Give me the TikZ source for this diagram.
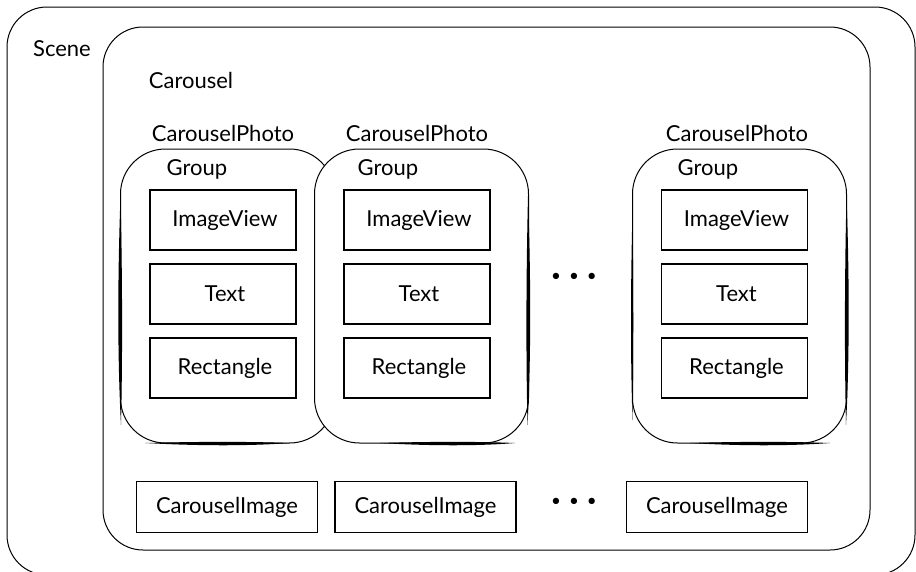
\documentclass[tikz,border=0pt]{standalone}
\usepackage{fontspec}
\setmainfont{Lato}
\begin{document}
\begin{tikzpicture}[x=1pt,y=-1pt,
  lbl/.style={font=\fontsize{22}{25}\selectfont, inner sep=0pt},
  container/.style={draw, line width=1pt, rounded corners=#1, inner sep=0pt},
  grp/.style={draw, fill=white, line width=1pt, rounded corners=45pt, minimum width=214pt, minimum height=294pt, inner sep=0pt},
  item/.style={draw, line width=1.1pt, minimum width=146pt, minimum height=60pt, inner sep=0pt, font=\fontsize{22}{25}\selectfont},
  imgbox/.style={draw, line width=1.1pt, minimum width=181pt, minimum height=51pt, inner sep=0pt, font=\fontsize{22}{25}\selectfont},
  heavy/.style={fill=black}
]
\useasboundingbox (0,0) rectangle (916,571);
% Scene and Carousel containers
\node[container=40pt, minimum width=908pt, minimum height=568pt] (scene) at (461,291) {};
\node[container=40pt, minimum width=767pt, minimum height=523pt] (carousel) at (486.5,288.5) {};
\node[lbl] (scenelbl) at (62,49) {Scene};
\node[lbl] (carousellbl) at (191,80) {Carousel};

% Group 1
\node[grp] (g1) at (227.5,296) {};
\fill[heavy] (120.5,196) .. controls (117.5,280) and (117.5,360) .. (121,425) .. controls (122.5,360) and (122.5,280) .. cycle;
\fill[heavy] (145,443) .. controls (200,446) and (250,446) .. (290,443) .. controls (250,441.5) and (200,441.5) .. cycle;
% Group 2 (on top of group 1)
\node[grp] (g2) at (421.5,296) {};
\fill[heavy] (528,196) .. controls (531,280) and (531,360) .. (527.5,425) .. controls (526,360) and (526,280) .. cycle;
\fill[heavy] (380,443) .. controls (430,446) and (480,446) .. (515,443) .. controls (480,441.5) and (430,441.5) .. cycle;
% Group 3
\node[grp] (g3) at (739.5,296) {};
\fill[heavy] (846.5,196) .. controls (849.5,280) and (849.5,360) .. (846,425) .. controls (844.5,360) and (844.5,280) .. cycle;
\fill[heavy] (632.5,210) .. controls (630.5,290) and (630.5,360) .. (632.5,420) .. controls (633.5,360) and (633.5,290) .. cycle;
\fill[heavy] (690,443) .. controls (740,446) and (790,446) .. (830,443) .. controls (790,441.5) and (740,441.5) .. cycle;

% labels
\node[lbl] (cp1) at (223,133) {CarouselPhoto};
\node[lbl] (cp2) at (417,133) {CarouselPhoto};
\node[lbl] (cp3) at (737,133) {CarouselPhoto};
\node[lbl] (gl1) at (197,169) {Group};
\node[lbl] (gl2) at (388,169) {Group};
\node[lbl] (gl3) at (708,169) {Group};

% items
\foreach \gx/\n in {223/1,417/2,734.5/3}{
  \node[item] (iv\n) at (\gx,220) {\hspace{4pt}ImageView};
  \node[item] (tx\n) at (\gx,294) {\hspace{4pt}Text};
  \node[item] (rc\n) at (\gx,368) {\hspace{4pt}Rectangle};
}

% ellipses
\node[lbl, font=\fontsize{17}{20}\selectfont] (dots1) at (574,277) {•\hspace{8pt}•\hspace{8pt}•};
\node[lbl, font=\fontsize{17}{20}\selectfont] (dots2) at (574,502) {•\hspace{8pt}•\hspace{8pt}•};

% CarouselImage boxes
\node[imgbox] (ci1) at (227,507) {CarouselImage};
\node[imgbox] (ci2) at (425.5,507) {CarouselImage};
\node[imgbox] (ci3) at (717,507) {CarouselImage};
\end{tikzpicture}
\end{document}
